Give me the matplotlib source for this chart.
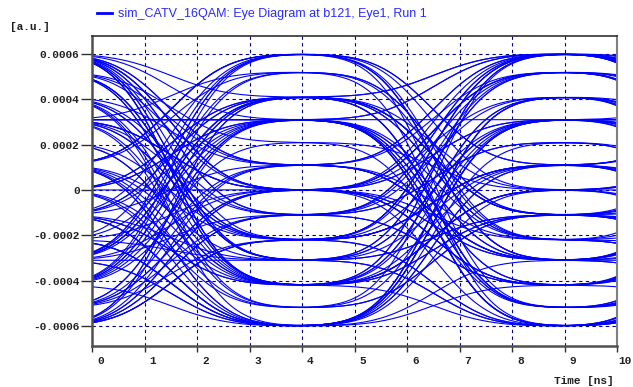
import math
import numpy as np
import matplotlib
matplotlib.use("Agg")
import matplotlib.pyplot as plt
from matplotlib.lines import Line2D
import matplotlib.transforms as mtransforms

# ---- data ----
# amplitude levels seen at the eye openings [a.u.]
levels = [0.0006, 0.00052, 0.00041, 0.00031, 0.00021, 0.00011, 0.0,
          -0.00011, -0.00022, -0.00031, -0.00042, -0.00052, -0.0006]
# symbol sequence (indices into levels), one symbol every 5 ns, first sample at -1 ns
symbol_index = [3, 6, 0, 9, 12, 2, 7, 10, 5, 1, 8, 12, 3, 3, 0, 6, 9, 2, 11, 7,
                4, 10, 0, 5, 8, 12, 6, 3, 9, 1, 7, 10, 2, 12, 5, 8, 0, 3, 11, 6,
                9, 2, 7, 12, 10, 5, 0, 8, 3, 6, 1, 9, 12, 7, 2, 10, 0, 6, 8, 3,
                11, 5, 9, 12, 2, 7, 0, 10, 6, 6, 3, 8, 12, 5, 1, 9, 7, 2, 0, 10,
                6, 11, 3, 8, 5, 12, 9, 2, 0, 7, 4, 10, 6, 3, 12, 8, 1, 5, 9, 7,
                0, 2, 11, 6, 10, 3, 12, 8, 5, 0, 9, 9, 7, 2, 6, 10, 3, 1, 12, 8,
                5, 0, 9, 6, 2, 11, 7, 3, 10, 12, 4, 8, 0, 6, 3, 10, 7, 12, 2, 5,
                9, 0, 11, 3, 8, 6, 1, 10, 12, 2, 7, 5, 0, 9, 3, 3, 12, 6, 10, 2,
                8, 0, 5, 11, 7, 9, 1, 6, 12, 3, 10, 2, 7, 0, 8, 9, 5, 12, 3, 6,
                10, 1, 7, 12, 3, 3, 9, 0, 5, 10, 2, 8, 12, 6, 1, 9, 3, 11, 0, 7,
                10, 4, 6, 12, 2, 8, 5, 0, 9, 3, 3, 3, 12, 7, 1, 10, 6, 2, 11, 8,
                0, 5, 9, 12, 3, 7, 10, 0, 6, 2, 8, 12, 5, 9, 1, 4, 11, 3, 0, 10,
                7, 6, 12, 2]
symbol_period = 5.0      # ns
first_sample = -1.0      # ns
window = 10.0            # ns per eye trace
filter_sigma = 0.85      # ns, Gaussian receive filter width

xticks = [0, 1, 2, 3, 4, 5, 6, 7, 8, 9, 10]
xticklabels = [str(v) for v in xticks]
yticks = [-0.0006, -0.0004, -0.0002, 0, 0.0002, 0.0004, 0.0006]
yticklabels = ["-0.0006", "-0.0004", "-0.0002", "0", "0.0002", "0.0004", "0.0006"]
legend_label = "sim_CATV_16QAM: Eye Diagram at b121, Eye1, Run 1"

# ---- figure ----
W, H = 633, 387
fig = plt.figure(figsize=(W / 100, H / 100), dpi=100)
fig.patch.set_facecolor("white")
ax = fig.add_axes([92 / W, 1 - 346 / H, (617 - 92) / W, (346 - 36) / H])

erf = np.vectorize(math.erf)


def phi(x):
    return 0.5 * (1 + erf(x / math.sqrt(2)))


sym = np.array([levels[i] for i in symbol_index])
n_traces = (len(sym) - 3) // 2
tl = np.linspace(0, window, 501)
for j in range(n_traces):
    tg = tl + j * window          # global time, sample k at first_sample + k*T
    y = np.zeros_like(tl)
    kc = int((j * window - first_sample) // symbol_period)
    for k in range(max(0, kc - 2), min(len(sym), kc + 5)):
        tk = first_sample + k * symbol_period
        y += sym[k] * (phi((tg - tk + symbol_period / 2) / filter_sigma)
                       - phi((tg - tk - symbol_period / 2) / filter_sigma))
    ax.plot(tl, y, color="#0000ff", lw=0.8, solid_capstyle="butt")

ax.set_xlim(0, 10)
ax.set_ylim(-0.000688, 0.000679)

grid_color = "#000080"
for xv in xticks[1:-1]:
    ax.axvline(xv, color=grid_color, lw=0.8, ls=(0, (3, 3)), zorder=0.5)
for yv in yticks:
    ax.axhline(yv, color=grid_color, lw=0.8, ls=(0, (3, 3)), zorder=0.5)

ax.set_xticks(xticks)
ax.set_xticklabels(xticklabels)
ax.set_yticks(yticks)
ax.set_yticklabels(yticklabels)
tick_font = dict(family="Liberation Mono", weight="bold", size=8)
for lab in ax.get_xticklabels() + ax.get_yticklabels():
    lab.set_fontfamily("Liberation Mono")
    lab.set_fontweight("bold")
    lab.set_fontsize(8)
    lab.set_color("#202020")
ax.tick_params(axis="x", direction="out", length=4, width=1, color="#303030", pad=3)
ax.tick_params(axis="y", direction="out", length=8, width=1, color="#303030", pad=1)
xlabs = ax.get_xticklabels()
for i, lab in enumerate(xlabs):
    dx = 5 if i < len(xlabs) - 1 else 1
    off = mtransforms.ScaledTranslation(dx / 100, 0, fig.dpi_scale_trans)
    lab.set_horizontalalignment("left")
    lab.set_transform(lab.get_transform() + off)

ax.spines["left"].set_linewidth(1.8)
ax.spines["left"].set_color("#505050")
ax.spines["bottom"].set_linewidth(1.8)
ax.spines["bottom"].set_color("#505050")
ax.spines["top"].set_linewidth(1.2)
ax.spines["top"].set_color("#303030")
ax.spines["right"].set_linewidth(1.5)
ax.spines["right"].set_color("#808080")

fig.text(10 / W, 1 - 27 / H, "[a.u.]", ha="left", va="center", color="#202020", **tick_font)
fig.text(614 / W, 1 - 381 / H, "Time [ns]", ha="right", va="center", color="#202020", **tick_font)

fig.add_artist(Line2D([97 / W, 112 / W], [1 - 13 / H, 1 - 13 / H], color="#0000ff", lw=2))
fig.text(118 / W, 1 - 14 / H, legend_label, ha="left", va="center",
         family="Liberation Sans", size=9, color="#2a2aff")

fig.savefig("out.png", dpi=100)
